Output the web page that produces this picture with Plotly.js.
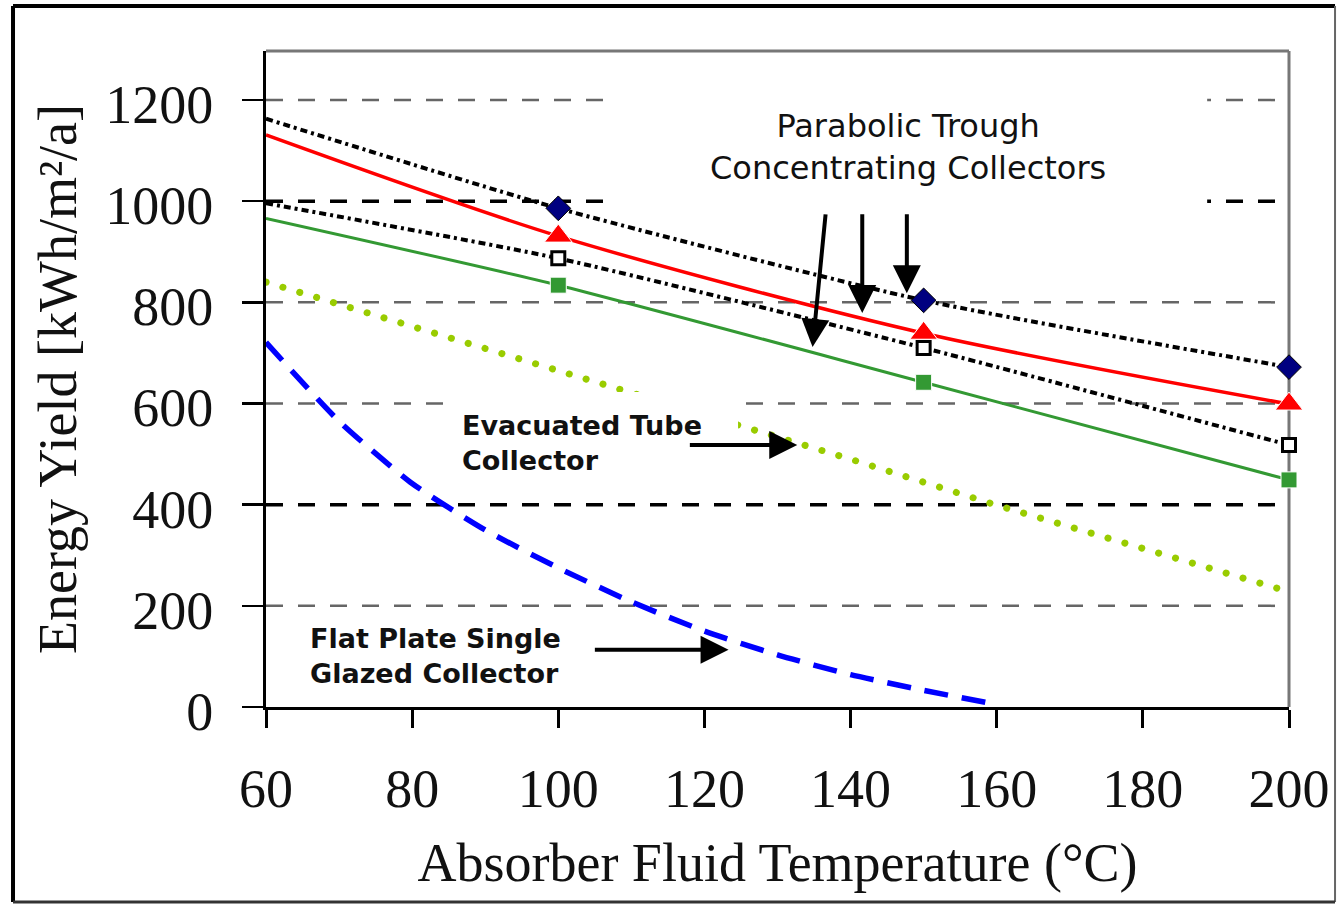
<!DOCTYPE html>
<html>
<head>
<meta charset="utf-8">
<script src="https://cdn.plot.ly/plotly-3.0.1.min.js"></script>
<style>
html, body { margin: 0; padding: 0; background: #ffffff; }
#chart { width: 1337px; height: 904px; }
#chart .scatterlayer .trace:nth-of-type(2) path.js-line { stroke-linecap: round; }
</style>
</head>
<body>
<div id="chart"></div>
<script>
// ---- data ----
const troughTemps = [60, 100, 150, 200];
const troughDiamond = [1163, 986, 804, 672];   // upper dotted, navy diamonds
const troughTriangle = [1131, 931, 739, 599];  // red, triangles
const troughOpenSq = [996, 887, 710, 518];     // lower dotted, open squares
const troughGreenSq = [966, 834, 642, 449];    // green, squares
const evacTemps = [60, 80, 100, 120, 140, 160, 180, 200];
const evacYield = [840, 753, 666, 579, 490, 399, 314, 228];
const flatTemps = [60, 70, 80, 90, 100, 110, 120, 130, 140, 150, 160];
const flatYield = [721, 565, 442, 350, 275, 208, 150, 103, 64, 33, 5];
const xTicks = [60, 80, 100, 120, 140, 160, 180, 200];
const yTicks = [0, 200, 400, 600, 800, 1000, 1200];
const darkGridValues = [400, 1000];
const xTitle = 'Absorber Fluid Temperature (°C)';
const yTitle = 'Energy Yield [kWh/m²/a]';
const labelTrough = 'Parabolic Trough<br>Concentrating Collectors';
const labelEvac = 'Evacuated Tube<br>Collector';
const labelFlat = 'Flat Plate Single<br>Glazed Collector';

const SERIF = '"Liberation Serif", "Times New Roman", serif';
const SANS = '"DejaVu Sans", Verdana, sans-serif';
const markerSizes = (n) => troughTemps.map((t, i) => (i === 0 ? 0 : n));

const traces = [
  { x: flatTemps, y: flatYield, mode: 'lines',
    line: { color: '#0000FF', width: 5.5, dash: '24px,14px', shape: 'spline', smoothing: 0.6 } },
  { x: evacTemps, y: evacYield, mode: 'lines',
    line: { color: '#99CC00', width: 7, dash: '0.1px,17.5px' } },
  { x: troughTemps, y: troughGreenSq, mode: 'lines+markers', cliponaxis: false,
    line: { color: '#339933', width: 3, shape: 'spline', smoothing: 0.6 },
    marker: { symbol: 'square', size: markerSizes(16), opacity: 1, color: '#339933' } },
  { x: troughTemps, y: troughOpenSq, mode: 'lines+markers', cliponaxis: false,
    line: { color: '#000000', width: 4, dash: '7px,4px,3px,4px', shape: 'spline', smoothing: 0.6 },
    marker: { symbol: 'square', size: markerSizes(13), opacity: 1, color: '#ffffff', line: { color: '#000000', width: 3 } } },
  { x: troughTemps, y: troughTriangle, mode: 'lines+markers', cliponaxis: false,
    line: { color: '#FF0000', width: 3.5, shape: 'spline', smoothing: 0.8 },
    marker: { symbol: 'triangle-up', size: markerSizes(24), opacity: 1, color: '#FF0000' } },
  { x: troughTemps, y: troughDiamond, mode: 'lines+markers', cliponaxis: false,
    line: { color: '#000000', width: 4, dash: '7px,4px,3px,4px', shape: 'spline', smoothing: 0.6 },
    marker: { symbol: 'diamond', size: markerSizes(19), opacity: 1, color: '#000080' } }
];

const shapes = [];
// horizontal dashed gridlines
yTicks.filter(v => v > 0).forEach(v => {
  const dark = darkGridValues.includes(v);
  shapes.push({ type: 'line', layer: 'below', xref: 'paper', yref: 'y', x0: 0, x1: 0.995, y0: v, y1: v,
    line: { color: dark ? '#000000' : '#666666', width: dark ? 3.5 : 2.5, dash: '17px,15px' } });
});
// white boxes behind the annotation texts
shapes.push({ type: 'rect', layer: 'above', xref: 'x', yref: 'y', x0: 106.7, x1: 188.8, y0: 987, y1: 1279,
  fillcolor: '#ffffff', line: { width: 0 } });
shapes.push({ type: 'rect', layer: 'above', xref: 'x', yref: 'y', x0: 84.5, x1: 124.6, y0: 415, y1: 623,
  fillcolor: '#ffffff', line: { width: 0 } });
// grey top and right border of plot area
shapes.push({ type: 'line', layer: 'below', xref: 'paper', yref: 'paper', x0: 0, x1: 1, y0: 1, y1: 1, line: { color: '#777777', width: 3 } });
shapes.push({ type: 'line', layer: 'below', xref: 'paper', yref: 'paper', x0: 1, x1: 1, y0: 0, y1: 1, line: { color: '#777777', width: 3 } });
// outer picture frame
shapes.push({ type: 'line', xref: 'paper', yref: 'paper', x0: -0.2473, x1: -0.2473, y0: -0.2973, y1: 1.0686, line: { color: '#000000', width: 4 } });
shapes.push({ type: 'line', xref: 'paper', yref: 'paper', x0: -0.2473, x1: 1.045, y0: 1.0686, y1: 1.0686, line: { color: '#000000', width: 4 } });
shapes.push({ type: 'line', xref: 'paper', yref: 'paper', x0: 1.045, x1: 1.045, y0: -0.2973, y1: 1.0686, line: { color: '#666666', width: 2 } });
shapes.push({ type: 'line', xref: 'paper', yref: 'paper', x0: -0.2473, x1: 1.045, y0: -0.2973, y1: -0.2973, line: { color: '#333333', width: 3 } });

const arrow = (x, y, ax, ay) => ({ x: x, y: y, ax: ax, ay: ay, xref: 'x', yref: 'y', axref: 'x', ayref: 'y',
  text: '', showarrow: true, arrowhead: 2, arrowsize: 1.4, arrowwidth: 4, arrowcolor: '#000000', standoff: 0 });

const annotations = [
  { x: 147.8, y: 1108, xref: 'x', yref: 'y', text: labelTrough, showarrow: false,
    xanchor: 'center', yanchor: 'middle', align: 'center', font: { family: SANS, size: 32, color: '#111111' } },
  { x: 86.6, y: 522, xref: 'x', yref: 'y', text: labelEvac, showarrow: false,
    xanchor: 'left', yanchor: 'middle', align: 'left', font: { family: SANS, size: 27, color: '#111111', weight: 'bold' } },
  { x: 65.7, y: 100, xref: 'x', yref: 'y', text: labelFlat, showarrow: false,
    xanchor: 'left', yanchor: 'middle', align: 'left', font: { family: SANS, size: 27, color: '#111111', weight: 'bold' } },
  arrow(134.8, 712, 136.6, 977),
  arrow(141.6, 779, 141.6, 977),
  arrow(147.7, 818, 147.7, 977),
  arrow(132.7, 518, 117.8, 518),
  arrow(123.3, 113, 104.8, 113)
];

const layout = {
  width: 1337, height: 904,
  margin: { l: 266, r: 48, t: 51, b: 197, pad: 0 },
  paper_bgcolor: '#ffffff', plot_bgcolor: '#ffffff',
  showlegend: false,
  font: { family: SERIF, color: '#111111' },
  xaxis: {
    range: [60, 200], tickvals: xTicks, ticktext: xTicks.map(String),
    showgrid: false, zeroline: false, showline: true, linecolor: '#000000', linewidth: 3,
    ticks: 'outside', ticklen: 18, tickwidth: 3, tickcolor: '#000000',
    tickfont: { family: SERIF, size: 54, color: '#111111' }, ticklabelstandoff: 14,
    title: { text: xTitle, font: { family: SERIF, size: 54, color: '#111111' }, standoff: 26 },
    automargin: false
  },
  yaxis: {
    range: [0, 1297], tickvals: yTicks, ticktext: yTicks.map(String),
    showgrid: false, zeroline: false, showline: true, linecolor: '#000000', linewidth: 3,
    ticks: 'outside', ticklen: 21, tickwidth: 2.5, tickcolor: '#000000',
    tickfont: { family: SERIF, size: 54, color: '#111111' }, ticklabelstandoff: 18, ticklabelshift: 4,
    title: { text: yTitle, font: { family: SERIF, size: 54, color: '#111111' }, standoff: 12 },
    automargin: false
  },
  shapes: shapes,
  annotations: annotations
};

Plotly.newPlot('chart', traces, layout, { displayModeBar: false, staticPlot: true });
</script>
</body>
</html>
